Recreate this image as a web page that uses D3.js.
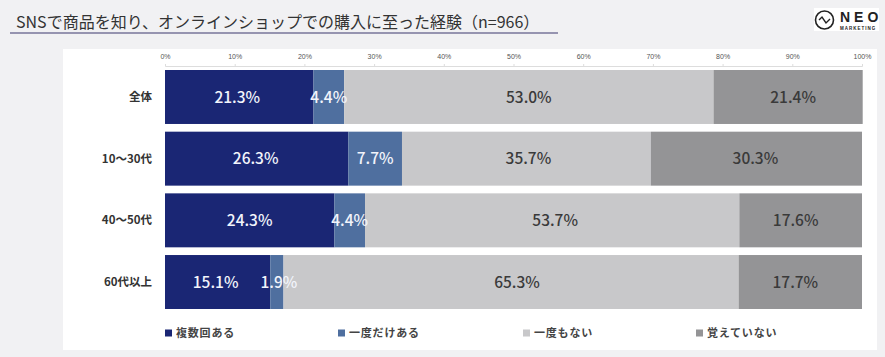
<!DOCTYPE html>
<html lang="ja">
<head>
<meta charset="utf-8">
<script src="https://cdn.jsdelivr.net/npm/d3@7"></script>
<style>
  html, body { margin: 0; padding: 0; background: #f1f1f3; }
  svg { display: block; font-family: "Noto Sans CJK JP", sans-serif; }
</style>
</head>
<body>
<svg id="chart" width="885" height="357"></svg>
<script>
// chart values
const categories = ["全体", "10～30代", "40～50代", "60代以上"];
const seriesNames = ["複数回ある", "一度だけある", "一度もない", "覚えていない"];
const several = [21.3, 26.3, 24.3, 15.1];
const once = [4.4, 7.7, 4.4, 1.9];
const never = [53.0, 35.7, 53.7, 65.3];
const forgot = [21.4, 30.3, 17.6, 17.7];
const tickValues = [0, 10, 20, 30, 40, 50, 60, 70, 80, 90, 100];
const titleText = "SNSで商品を知り、オンラインショップでの購入に至った経験（n=966）";

const COLORS = ["#1a2674", "#4f6f9f", "#c8c8ca", "#949496"];
const TEXT_COLORS = ["#f2f4fb", "#f2f4fb", "#3a3a3a", "#3a3a3a"];
const PLOT = { LEFT: 165, RIGHT: 862, TOP: 70, BOTTOM: 309 };
const LEGEND_LEFTS = [165, 338, 523, 696];
// labels in the original are not quite centred in their segments
const LABEL_NUDGE = [
  [-2, 0, 0, 5],
  [-1, 0, 2, -1],
  [0, 0, 3, -5],
  [-2, 2, 6, -5],
];

const svg = d3.select("#chart");

// white panel behind the chart
svg.append("rect")
  .attr("x", 63).attr("y", 49)
  .attr("width", 814).attr("height", 301)
  .attr("fill", "#ffffff");

// title and underline
svg.append("text")
  .attr("x", 16).attr("y", 27.5)
  .attr("font-size", 16)
  .attr("fill", "#333333")
  .text(titleText);

svg.append("line")
  .attr("x1", 10).attr("x2", 558)
  .attr("y1", 33).attr("y2", 33)
  .attr("stroke", "#77749a")
  .attr("stroke-width", 1.5);

// scales
const x = d3.scaleLinear().domain([0, 100]).range([PLOT.LEFT, PLOT.RIGHT]);
const y = d3.scaleBand()
  .domain(categories)
  .range([PLOT.TOP, PLOT.BOTTOM])
  .paddingInner(0.125)
  .paddingOuter(0);

// top axis
const axis = svg.append("g")
  .attr("transform", `translate(0,${PLOT.TOP - 4})`)
  .call(d3.axisTop(x).tickValues(tickValues).tickFormat((d) => `${d}%`).tickSize(2).tickPadding(5));

axis.select(".domain").attr("stroke", "#dddddd");
axis.selectAll(".tick line").attr("stroke", "#dddddd");
axis.selectAll(".tick text")
  .attr("font-size", 7)
  .attr("font-family", "inherit")
  .attr("fill", "#555555");

// stacked bars
const rows = categories.map((name, i) => ({
  name,
  row: i,
  values: [several[i], once[i], never[i], forgot[i]],
}));

const rowGroups = svg.selectAll("g.row")
  .data(rows)
  .enter()
  .append("g")
  .attr("class", "row")
  .attr("transform", (d) => `translate(0,${y(d.name)})`);

rowGroups.each(function (d) {
  const g = d3.select(this);
  let start = 0;
  const segments = d.values.map((v, i) => {
    const seg = { v, i, start };
    start += v;
    return seg;
  });

  g.selectAll("rect")
    .data(segments)
    .enter()
    .append("rect")
    .attr("x", (s) => x(s.start))
    .attr("y", 0)
    .attr("width", (s) => x(s.start + s.v) - x(s.start))
    .attr("height", y.bandwidth())
    .attr("fill", (s) => COLORS[s.i]);

  g.selectAll("text.value")
    .data(segments)
    .enter()
    .append("text")
    .attr("class", "value")
    .attr("x", (s) => x(s.start + s.v / 2) + LABEL_NUDGE[d.row][s.i])
    .attr("y", y.bandwidth() / 2)
    .attr("dy", "0.36em")
    .attr("text-anchor", "middle")
    .attr("font-size", 15.5)
    .attr("font-weight", 500)
    .attr("fill", (s) => TEXT_COLORS[s.i])
    .text((s) => `${s.v.toFixed(1)}%`);

  g.append("text")
    .attr("x", 152)
    .attr("y", y.bandwidth() / 2)
    .attr("dy", "0.36em")
    .attr("text-anchor", "end")
    .attr("font-size", 11.5)
    .attr("font-weight", 700)
    .attr("fill", "#333333")
    .text(d.name);
});

// legend
const legendX = d3.scaleOrdinal().domain(seriesNames).range(LEGEND_LEFTS);

const legend = svg.selectAll("g.legend")
  .data(seriesNames)
  .enter()
  .append("g")
  .attr("class", "legend")
  .attr("transform", (d) => `translate(${legendX(d)},333)`);

legend.append("rect")
  .attr("x", 0).attr("y", -3.5)
  .attr("width", 7).attr("height", 7)
  .attr("fill", (d, i) => COLORS[i]);

legend.append("text")
  .attr("x", 11)
  .attr("dy", "0.36em")
  .attr("font-size", 11)
  .attr("font-weight", 700)
  .attr("letter-spacing", 0.8)
  .attr("fill", "#444444")
  .text((d) => d);

// logo
const logo = svg.append("g").attr("class", "logo").attr("font-family", "Liberation Sans");
logo.append("rect")
  .attr("x", 814).attr("y", 8).attr("width", 65).attr("height", 23)
  .attr("fill", "#ffffff");
logo.append("circle")
  .attr("cx", 824.5).attr("cy", 20).attr("r", 9)
  .attr("fill", "none").attr("stroke", "#222222").attr("stroke-width", 1.6);
logo.append("path")
  .attr("d", d3.line().curve(d3.curveLinear)([[819, 20], [822, 17], [826, 23], [830, 19]]))
  .attr("fill", "none").attr("stroke", "#222222").attr("stroke-width", 1.4);
logo.append("text")
  .attr("x", 840).attr("y", 21.5)
  .attr("font-size", 14).attr("font-weight", 700)
  .attr("letter-spacing", 4)
  .attr("fill", "#222222")
  .text("NEO");
logo.append("text")
  .attr("x", 840).attr("y", 29.5)
  .attr("font-size", 4.5).attr("font-weight", 700)
  .attr("letter-spacing", 1)
  .attr("fill", "#222222")
  .text("MARKETING");
</script>
</body>
</html>
